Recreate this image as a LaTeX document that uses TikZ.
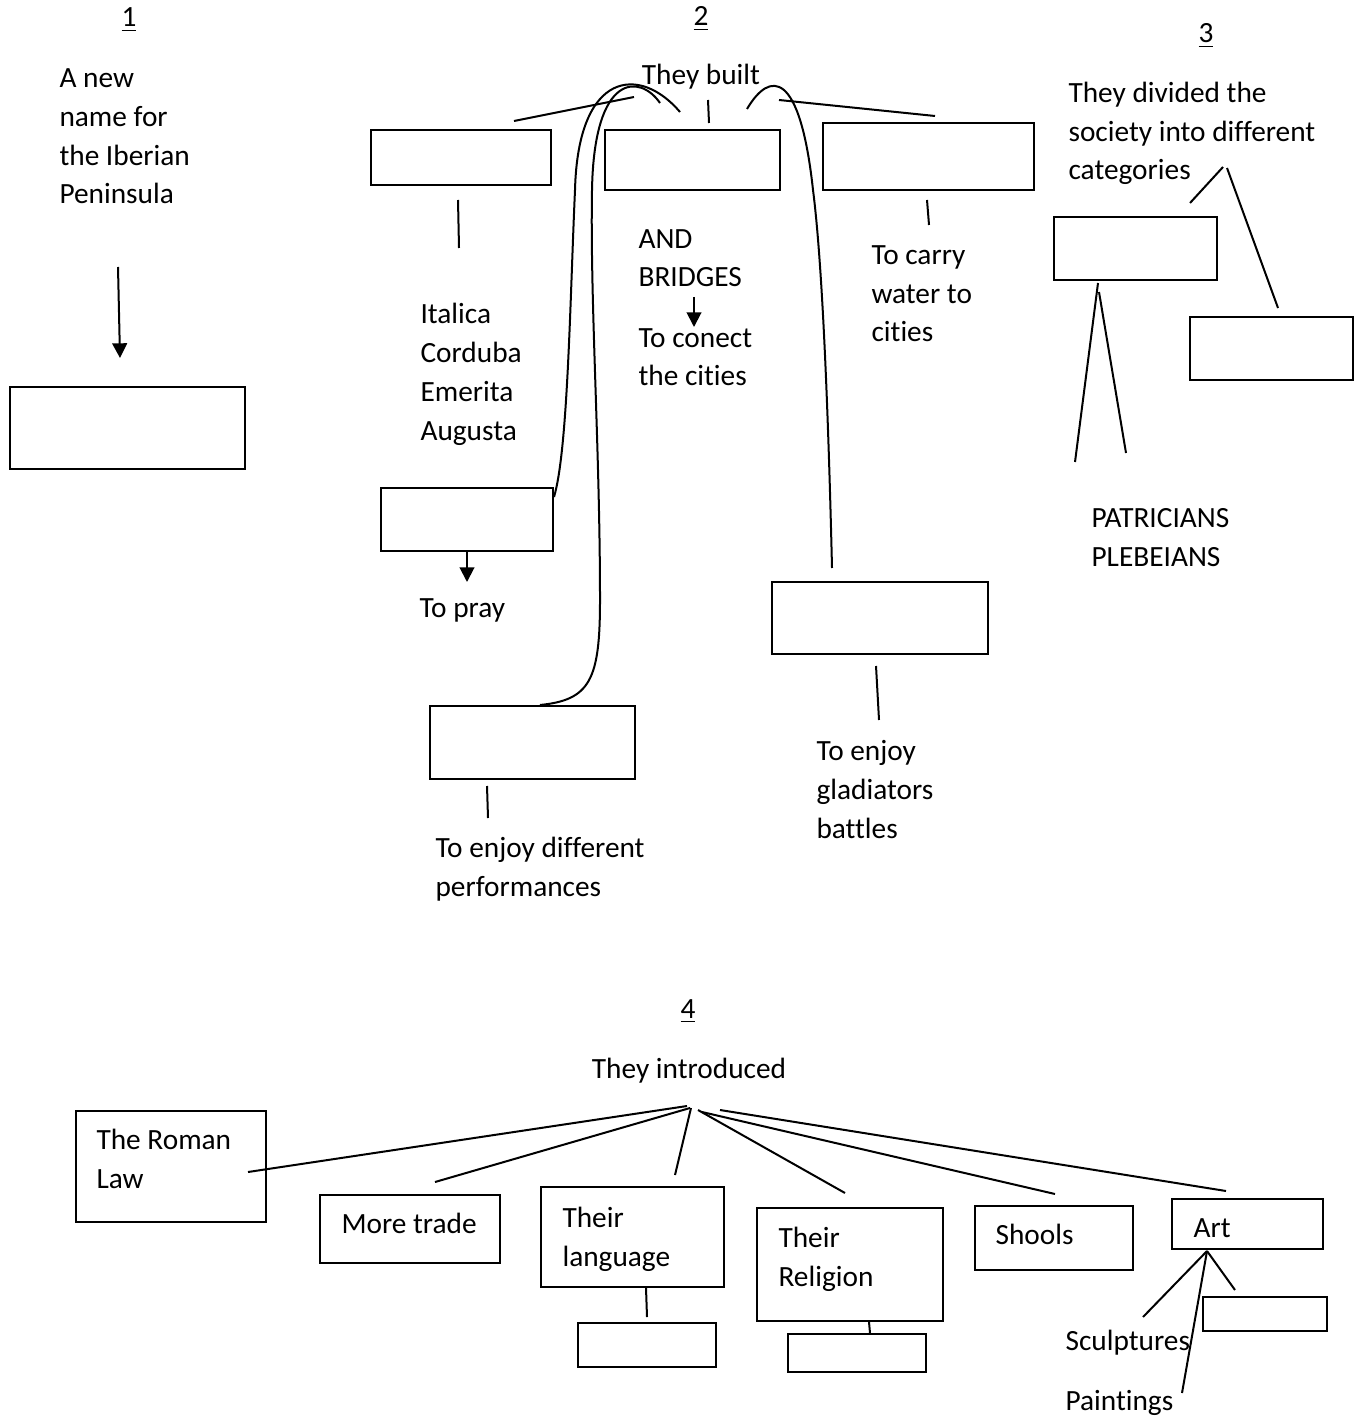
\documentclass[tikz,border=0pt]{standalone}
\usepackage{fontspec}
\setmainfont{Carlito}[Ligatures=NoCommon]
\usetikzlibrary{fit,arrows.meta}
\tikzset{
  box/.style={draw, line width=0.75pt, inner sep=0pt, fit={#1}},
  txt/.style={anchor=base west, align=left, inner sep=0pt},
  head/.style={anchor=base, inner sep=0pt},
  link/.style={line width=0.75pt},
  arr/.style={line width=0.75pt, -{Triangle[length=5.5pt,width=5.5pt]}},
}
\begin{document}
\begin{tikzpicture}[x=0.375pt, y=-0.375pt, font=\fontsize{11pt}{14.6pt}\selectfont]
		\useasboundingbox (0,0) rectangle (1361,1418);
		% 1
		\node[head] (num1) at (129,27) {\underline{1}};
		\node[txt] (newname) at (59,204) {A new\\name for\\the Iberian\\Peninsula};
		\node[box={(10,387)(245,469)}] (hispania) {};
		\coordinate (n1) at (118,267);
		\coordinate (n2) at (120,358);
		\draw[arr] (n1) -- (n2);
		% 2
		\node[head] (num2) at (701,26) {\underline{2}};
		\node[head] (built) at (701,85) {They built};
		\node[box={(371,130)(551,185)}] (cities) {};
		\node[box={(605,130)(780,190)}] (roads) {};
		\node[box={(823,123)(1034,190)}] (aqueduct) {};
		\node[box={(381,488)(553,551)}] (temple) {};
		\node[box={(430,706)(635,779)}] (theatre) {};
		\node[box={(772,582)(988,654)}] (amphi) {};
		\node[txt] (citynames) at (420,440) {Italica\\Corduba\\Emerita\\Augusta};
		\node[txt] (bridges) at (638,287) {AND\\BRIDGES};
		\node[txt] (conect) at (638,386) {To conect\\the cities};
		\node[txt] (water) at (871,342) {To carry\\water to\\cities};
		\node[txt] (pray) at (419,617) {To pray};
		\node[txt] (perform) at (435,896) {To enjoy different\\performances};
		\node[txt] (gladiators) at (816,838) {To enjoy\\gladiators\\battles};
		\coordinate (b1) at (514,121);
		\coordinate (b2) at (634,97);
		\coordinate (b3) at (708,100);
		\coordinate (b4) at (709,123);
		\coordinate (b5) at (779,100);
		\coordinate (b6) at (935,116);
		\coordinate (b7) at (680,112);
		\coordinate (b8) at (660,103);
		\coordinate (b9) at (747,109);
		\coordinate (b10) at (832,568);
		\draw[link] (b1) -- (b2);
		\draw[link] (b3) -- (b4);
		\draw[link] (b5) -- (b6);
		\draw[link] (temple.east |- 0,497) .. controls (568,450) and (570,300) .. (575,190) .. controls (578,70) and (640,65) .. (b7);
		\draw[link] (theatre.north -| 540,0) .. controls (590,700) and (600,680) .. (600,600) .. controls (600,450) and (590,300) .. (592,190) .. controls (594,72) and (640,74) .. (b8);
		\draw[link] (b10) .. controls (828,400) and (822,260) .. (813,190) .. controls (800,70) and (770,70) .. (b9);
		\coordinate (c1) at (458,200);
		\coordinate (c2) at (459,248);
		\coordinate (c3) at (927,200);
		\coordinate (c4) at (929,225);
		\coordinate (c5) at (876,666);
		\coordinate (c6) at (879,720);
		\coordinate (c7) at (487,786);
		\coordinate (c8) at (488,818);
		\coordinate (c9) at (694,297);
		\coordinate (c10) at (694,327);
		\coordinate (c11) at (467,582);
		\draw[link] (c1) -- (c2);
		\draw[link] (c3) -- (c4);
		\draw[link] (c5) -- (c6);
		\draw[link] (c7) -- (c8);
		\draw[arr] (c9) -- (c10);
		\draw[arr] (temple.south -| c11) -- (c11);
		% 3
		\node[head] (num3) at (1206,43) {\underline{3}};
		\node[txt] (society) at (1068,180) {They divided the\\society into different\\categories};
		\node[txt] (classes) at (1091,566) {PATRICIANS\\PLEBEIANS};
		\node[box={(1054,217)(1217,280)}] (citizens) {};
		\node[box={(1190,317)(1353,380)}] (slaves) {};
		\coordinate (d1) at (1190,203);
		\coordinate (d2) at (1223,167);
		\coordinate (d3) at (1227,168);
		\coordinate (d4) at (1278,308);
		\coordinate (d5) at (1098,283);
		\coordinate (d6) at (1075,462);
		\coordinate (d7) at (1099,292);
		\coordinate (d8) at (1126,453);
		\draw[link] (d1) -- (d2);
		\draw[link] (d3) -- (d4);
		\draw[link] (d5) -- (d6);
		\draw[link] (d7) -- (d8);
		% 4
		\node[head] (num4) at (688,1018) {\underline{4}};
		\node[head] (introduced) at (689,1078) {They introduced};
		\node[box={(76,1111)(266,1222)}] (law) {};
		\node[box={(320,1195)(500,1263)}] (trade) {};
		\node[box={(541,1187)(724,1287)}] (language) {};
		\node[box={(578,1323)(716,1367)}] (latin) {};
		\node[box={(757,1208)(943,1321)}] (religion) {};
		\node[box={(788,1334)(926,1372)}] (christ) {};
		\node[box={(975,1206)(1133,1270)}] (schools) {};
		\node[box={(1172,1199)(1323,1249)}] (art) {};
		\node[box={(1203,1297)(1327,1331)}] (mosaics) {};
		\node[txt] at (96,1188) {The Roman\\Law};
		\node[txt] at (341,1233) {More trade};
		\node[txt] at (562,1266) {Their\\language};
		\node[txt] at (778,1286) {Their\\Religion};
		\node[txt] at (995,1244) {Shools};
		\node[txt] at (1193,1237) {Art};
		\node[txt] (sculpt) at (1065,1350) {Sculptures};
		\node[txt] (paint) at (1065,1410) {Paintings};
		\coordinate (e1) at (687,1106);
		\coordinate (e2) at (690,1108);
		\coordinate (e3) at (691,1108);
		\coordinate (e4) at (698,1110);
		\coordinate (e5) at (702,1112);
		\coordinate (e6) at (720,1110);
		\coordinate (f1) at (248,1172);
		\coordinate (f2) at (435,1182);
		\coordinate (f3) at (675,1175);
		\coordinate (f4) at (845,1193);
		\coordinate (f5) at (1055,1194);
		\coordinate (f6) at (1226,1191);
		\draw[link] (e1) -- (f1);
		\draw[link] (e2) -- (f2);
		\draw[link] (e3) -- (f3);
		\draw[link] (e4) -- (f4);
		\draw[link] (e5) -- (f5);
		\draw[link] (e6) -- (f6);
		\coordinate (g1) at (647,1317);
		\coordinate (g2) at (1207,1251);
		\coordinate (g3) at (1143,1317);
		\coordinate (g4) at (1182,1393);
		\coordinate (g5) at (1235,1290);
		\draw[link] (language.south -| 646,0) -- (g1);
		\draw[link] (religion.south -| 869,0) -- (christ.north -| 870,0);
		\draw[link] (g2) -- (g3);
		\draw[link] (g2) -- (g4);
		\draw[link] (g2) -- (g5);
	\end{tikzpicture}
\end{document}
